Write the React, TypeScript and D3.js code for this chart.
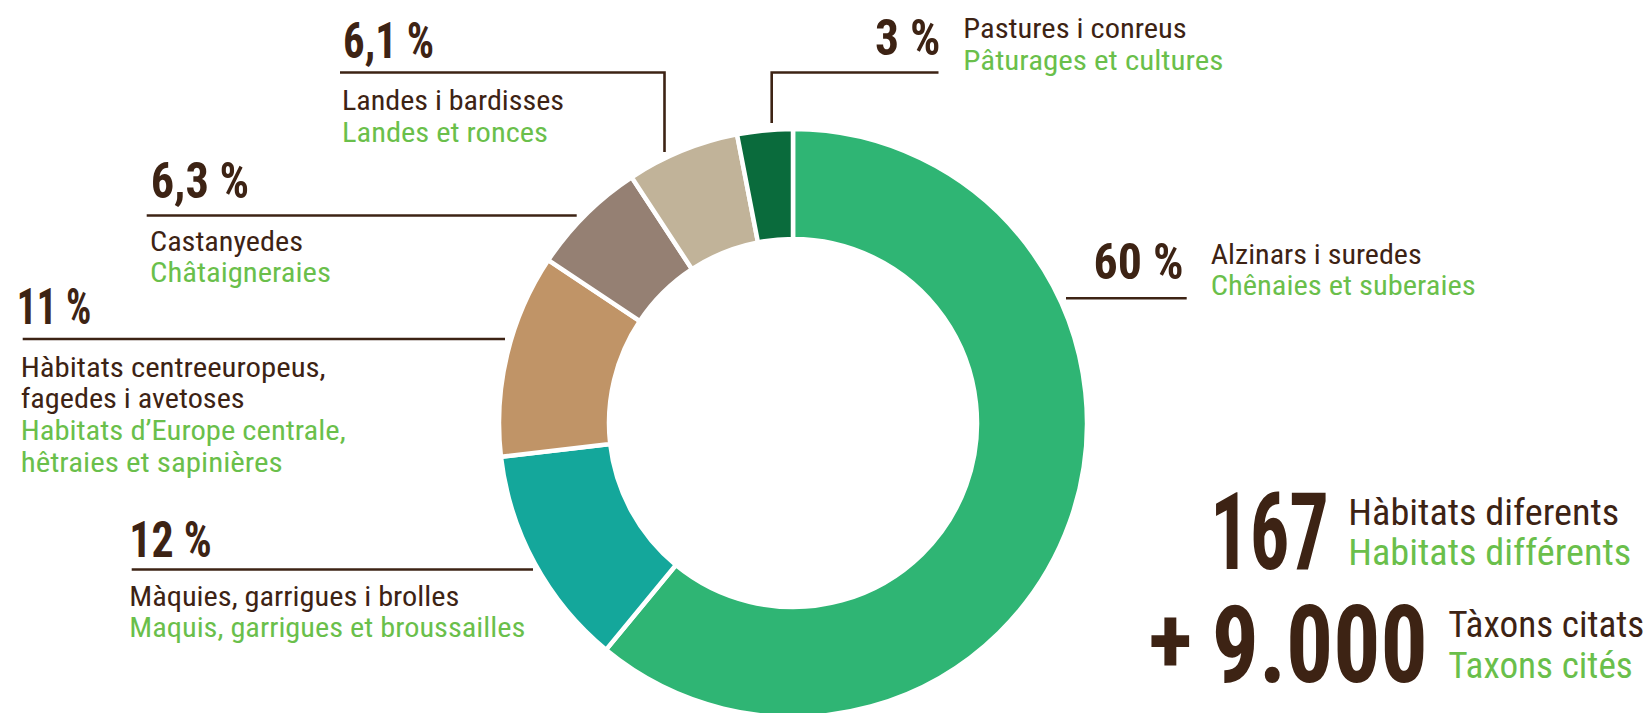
import React from "react";
import * as d3 from "d3";

// ---- data ----
const categoriesCa = [
  "Alzinars i suredes",
  "Màquies, garrigues i brolles",
  "Hàbitats centreeuropeus, fagedes i avetoses",
  "Castanyedes",
  "Landes i bardisses",
  "Pastures i conreus",
];
const values = [60, 12, 11, 6.3, 6.1, 3];
const percentLabels = ["60 %", "12 %", "11 %", "6,3 %", "6,1 %", "3 %"];
const sliceColors = ["#2fb574", "#14a79b", "#c09467", "#958073", "#c1b399", "#0a6b3c"];

const statNumbers = ["167", "9.000"];
const statLabelsCa = ["Hàbitats diferents", "Tàxons citats"];
const statLabelsFr = ["Habitats différents", "Taxons cités"];

// ---- style ----
const W = 1651;
const H = 713;
const BROWN = "#3d2314";
const GREEN = "#6abf4b";
const FONT = "'Roboto Condensed', 'Liberation Sans Narrow', Roboto, 'Noto Sans', sans-serif";

const cx = 793;
const cy = 423;
const rOuter = 294;
const rInner = 184;

type T = { t: string; x: number; y: number; w: number; c: string; s: number; fw: number };

export default function App() {
  const pie = d3.pie<number>().sort(null).value((d) => d);
  const arcs = pie(values);
  const arc = d3.arc<d3.PieArcDatum<number>>().innerRadius(rInner).outerRadius(rOuter);

  const PS = 50; // percent font size
  const LS = 28; // label font size
  const LW = 400;
  const texts: T[] = [
    // percentages
    { t: percentLabels[4], x: 343, y: 58, w: 91, c: BROWN, s: PS, fw: 700 },
    { t: percentLabels[3], x: 150.7, y: 197.7, w: 98.5, c: BROWN, s: PS, fw: 700 },
    { t: percentLabels[2], x: 16.7, y: 324.3, w: 74.5, c: BROWN, s: PS, fw: 700 },
    { t: percentLabels[1], x: 129.3, y: 557.3, w: 82.5, c: BROWN, s: PS, fw: 700 },
    { t: percentLabels[5], x: 875, y: 55, w: 65.5, c: BROWN, s: PS, fw: 700 },
    { t: percentLabels[0], x: 1093.5, y: 279, w: 90, c: BROWN, s: PS, fw: 700 },
    // category labels
    { t: categoriesCa[4], x: 342, y: 110, w: 222, c: BROWN, s: LS, fw: LW },
    { t: "Landes et ronces", x: 342, y: 141.7, w: 206, c: GREEN, s: LS, fw: LW },
    { t: categoriesCa[3], x: 150, y: 250.7, w: 153, c: BROWN, s: LS, fw: LW },
    { t: "Châtaigneraies", x: 150, y: 281.7, w: 181, c: GREEN, s: LS, fw: LW },
    { t: "Hàbitats centreeuropeus,", x: 20.7, y: 377.3, w: 305, c: BROWN, s: LS, fw: LW },
    { t: "fagedes i avetoses", x: 20.7, y: 408.3, w: 224, c: BROWN, s: LS, fw: LW },
    { t: "Habitats d’Europe centrale,", x: 20.7, y: 440, w: 325, c: GREEN, s: LS, fw: LW },
    { t: "hêtraies et sapinières", x: 20.7, y: 471.7, w: 262, c: GREEN, s: LS, fw: LW },
    { t: categoriesCa[1], x: 129.3, y: 606, w: 330, c: BROWN, s: LS, fw: LW },
    { t: "Maquis, garrigues et broussailles", x: 129.3, y: 636.7, w: 396, c: GREEN, s: LS, fw: LW },
    { t: categoriesCa[5], x: 963.3, y: 38.3, w: 223.5, c: BROWN, s: LS, fw: LW },
    { t: "Pâturages et cultures", x: 963.3, y: 70, w: 260, c: GREEN, s: LS, fw: LW },
    { t: categoriesCa[0], x: 1210.7, y: 264, w: 211, c: BROWN, s: LS, fw: LW },
    { t: "Chênaies et suberaies", x: 1210.7, y: 295, w: 265, c: GREEN, s: LS, fw: LW },
    // stats
    { t: statNumbers[0], x: 1210, y: 569.3, w: 119, c: BROWN, s: 107, fw: 700 },
    { t: statNumbers[1], x: 1211.7, y: 681.7, w: 216, c: BROWN, s: 107, fw: 700 },
    { t: statLabelsCa[0], x: 1348.3, y: 525, w: 271, c: BROWN, s: 36.5, fw: LW },
    { t: statLabelsFr[0], x: 1348.3, y: 565, w: 283, c: GREEN, s: 36.5, fw: LW },
    { t: statLabelsCa[1], x: 1448.3, y: 636.7, w: 196, c: BROWN, s: 36.5, fw: LW },
    { t: statLabelsFr[1], x: 1448.3, y: 678.3, w: 184.5, c: GREEN, s: 36.5, fw: LW },
  ];

  const leaders = [
    "M340,72.5H664.5V152",
    "M938.5,72.5H771.7V123",
    "M146.7,215.5H576.7",
    "M22.7,339H505",
    "M131.7,569.5H533",
    "M1066,298.3H1186.7",
  ];

  return (
    <svg
      width={W}
      height={H}
      viewBox={`0 0 ${W} ${H}`}
      style={{ position: "absolute", left: 0, top: 0, display: "block", background: "#fff" }}
    >
      <g transform={`translate(${cx},${cy})`}>
        {arcs.map((a, i) => (
          <path key={i} d={arc(a) || ""} fill={sliceColors[i]} stroke="#fff" strokeWidth={4.5} strokeLinejoin="miter" />
        ))}
      </g>
      {leaders.map((d, i) => (
        <path key={i} d={d} fill="none" stroke={BROWN} strokeWidth={2.6} />
      ))}
      {texts.map((t, i) => (
        <text
          key={i}
          x={t.x}
          y={t.y}
          fill={t.c}
          fontSize={t.s}
          fontWeight={t.fw}
          fontFamily={FONT}
          textLength={t.w}
          lengthAdjust="spacingAndGlyphs"
        >
          {t.t}
        </text>
      ))}
      <text
        x={1170.5}
        y={672}
        fill={BROWN}
        fontSize={92}
        fontWeight={700}
        fontFamily={FONT}
        textAnchor="middle"
      >
        +
      </text>
    </svg>
  );
}
